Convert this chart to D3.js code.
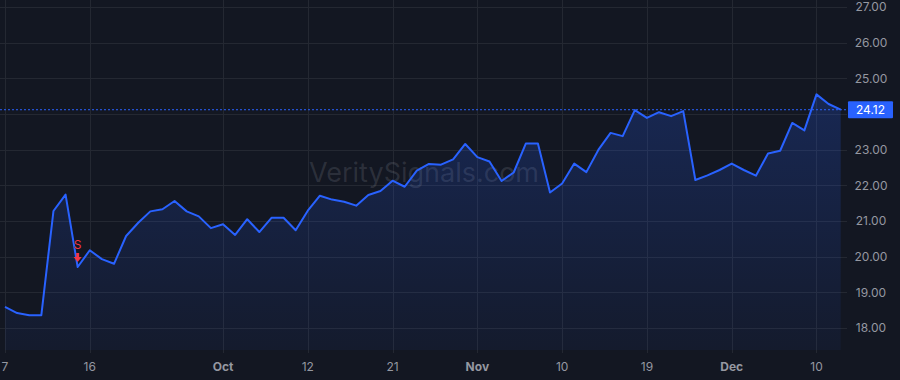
<!DOCTYPE html>
<html>
<head>
<meta charset="utf-8">
<script src="https://cdn.jsdelivr.net/npm/d3@7/dist/d3.min.js"></script>
<style>
  html, body { margin: 0; padding: 0; background: #131722; }
  svg { display: block; }
  text { font-family: "Inter", "Roboto", "Liberation Sans", sans-serif; }
</style>
</head>
<body>
<svg id="chart" width="900" height="380"></svg>
<script>
// ---- Data ----
const dates = [
  "2021-09-07","2021-09-08","2021-09-09","2021-09-10","2021-09-13","2021-09-14","2021-09-15","2021-09-16","2021-09-17",
  "2021-09-20","2021-09-21","2021-09-22","2021-09-23","2021-09-24","2021-09-27","2021-09-28","2021-09-29","2021-09-30",
  "2021-10-01","2021-10-04","2021-10-05","2021-10-06","2021-10-07","2021-10-08","2021-10-11","2021-10-12","2021-10-13",
  "2021-10-14","2021-10-15","2021-10-18","2021-10-19","2021-10-20","2021-10-21","2021-10-22","2021-10-25","2021-10-26",
  "2021-10-27","2021-10-28","2021-10-29","2021-11-01","2021-11-02","2021-11-03","2021-11-04","2021-11-05","2021-11-08",
  "2021-11-09","2021-11-10","2021-11-11","2021-11-12","2021-11-15","2021-11-16","2021-11-17","2021-11-18","2021-11-19",
  "2021-11-22","2021-11-23","2021-11-24","2021-11-26","2021-11-29","2021-11-30","2021-12-01","2021-12-02","2021-12-03",
  "2021-12-06","2021-12-07","2021-12-08","2021-12-09","2021-12-10","2021-12-13","2021-12-14"
];
const closes = [
  18.59, 18.42, 18.36, 18.36, 21.28, 21.74, 19.71, 20.18, 19.93, 19.80,
  20.58, 20.95, 21.27, 21.33, 21.56, 21.27, 21.13, 20.80, 20.91, 20.61,
  21.05, 20.69, 21.09, 21.09, 20.74, 21.29, 21.71, 21.60, 21.54, 21.43,
  21.73, 21.84, 22.13, 21.96, 22.41, 22.60, 22.58, 22.73, 23.16, 22.79,
  22.67, 22.12, 22.36, 23.17, 23.17, 21.80, 22.05, 22.61, 22.37, 23.00,
  23.47, 23.38, 24.11, 23.89, 24.05, 23.94, 24.08, 22.15, 22.28, 22.43,
  22.61, 22.43, 22.27, 22.89, 22.97, 23.75, 23.54, 24.55, 24.28, 24.12
];
const xTickDates  = ["2021-09-07","2021-09-16","2021-10-01","2021-10-12","2021-10-21","2021-11-01","2021-11-10","2021-11-19","2021-12-01","2021-12-10"];
const xTickLabels = ["7","16","Oct","12","21","Nov","10","19","Dec","10"];
const xTickIsMonth = [false,false,true,false,false,true,false,false,true,false];
const yTicks = [18,19,20,21,22,23,24,25,26,27];
const lastPrice = 24.12;
const signals = [{ date: "2021-09-15", label: "S" }];
const watermark = "VeritySignals.com";

// ---- Layout ----
const W = 900, H = 380;
const plotRight = 847, plotBottom = 350;
const svg = d3.select("#chart");

const x = d3.scaleLinear().domain([0, dates.length - 1]).range([5, 840.7]);
const y = d3.scaleLinear().domain([18, 27]).range([328, 7]);
const xi = d => dates.indexOf(d);

svg.append("rect").attr("width", W).attr("height", H).attr("fill", "#131722");

// Grid
const grid = svg.append("g");
grid.selectAll("line.h").data(yTicks).join("line")
  .attr("x1", 0).attr("x2", plotRight)
  .attr("y1", d => Math.round(y(d)) + 0.5).attr("y2", d => Math.round(y(d)) + 0.5)
  .attr("stroke", "#242832").attr("stroke-width", 1);
grid.selectAll("line.v").data(xTickDates).join("line")
  .attr("x1", d => Math.round(x(xi(d))) + 0.5).attr("x2", d => Math.round(x(xi(d))) + 0.5)
  .attr("y1", 0).attr("y2", plotBottom + 3)
  .attr("stroke", "#242832").attr("stroke-width", 1);

// Watermark
svg.append("text")
  .attr("x", 424).attr("y", 182)
  .attr("text-anchor", "middle")
  .attr("font-family", "'Liberation Sans', Arial, sans-serif")
  .attr("font-size", 27)
  .attr("fill", "rgba(178,181,190,0.17)")
  .text(watermark);

// Area gradient
const defs = svg.append("defs");
const grad = defs.append("linearGradient").attr("id", "areaGrad")
  .attr("gradientUnits", "userSpaceOnUse")
  .attr("x1", 0).attr("x2", 0).attr("y1", y(24.5)).attr("y2", plotBottom);
grad.append("stop").attr("offset", "0%").attr("stop-color", "#2962ff").attr("stop-opacity", 0.22);
grad.append("stop").attr("offset", "100%").attr("stop-color", "#2962ff").attr("stop-opacity", 0.05);

const area = d3.area()
  .x((d, i) => x(i)).y0(plotBottom).y1(d => y(d));
svg.append("path").datum(closes)
  .attr("d", area).attr("fill", "url(#areaGrad)");

// Price line
const lastY = y(lastPrice);
svg.append("line")
  .attr("x1", 0).attr("x2", 848)
  .attr("y1", lastY).attr("y2", lastY)
  .attr("stroke", "#2962ff").attr("stroke-width", 1)
  .attr("stroke-dasharray", "2,2");

const line = d3.line().x((d, i) => x(i)).y(d => y(d));
svg.append("path").datum(closes)
  .attr("d", line).attr("fill", "none")
  .attr("stroke", "#2962ff").attr("stroke-width", 2)
  .attr("stroke-linejoin", "round");

// Signals
signals.forEach(s => {
  const i = xi(s.date);
  const px = x(i), py = y(closes[i]);
  const g = svg.append("g").attr("fill", "#f23645");
  g.append("text")
    .attr("x", px).attr("y", py - 18)
    .attr("text-anchor", "middle")
    .attr("font-size", 12)
    .text(s.label);
  g.append("path")
    .attr("d", `M${px-1.5},${py-14} L${px+1.5},${py-14} L${px+1.5},${py-10} L${px+4},${py-10} L${px},${py-5} L${px-4},${py-10} L${px-1.5},${py-10} Z`);
});

// Y axis labels (hide those covered by the last-price label)
svg.append("g").selectAll("text")
  .data(yTicks.filter(d => Math.abs(y(d) - lastY) > 14))
  .join("text")
  .attr("x", 871).attr("y", d => y(d))
  .attr("dy", "0.35em")
  .attr("text-anchor", "middle")
  .attr("font-size", 12)
  .attr("fill", "#9598a1")
  .text(d => d.toFixed(2));

// Last price label
svg.append("rect")
  .attr("x", 848).attr("y", lastY - 8.5).attr("width", 45).attr("height", 17)
  .attr("rx", 1).attr("fill", "#2962ff");
svg.append("text")
  .attr("x", 870.5).attr("y", lastY).attr("dy", "0.35em")
  .attr("text-anchor", "middle").attr("font-size", 12)
  .attr("fill", "#ffffff")
  .text(lastPrice.toFixed(2));

// X axis labels
svg.append("g").selectAll("text").data(xTickDates).join("text")
  .attr("x", d => x(xi(d)))
  .attr("y", 367).attr("dy", "0.35em")
  .attr("text-anchor", "middle")
  .attr("font-size", 12)
  .attr("font-weight", (d, i) => xTickIsMonth[i] ? "bold" : "normal")
  .attr("fill", "#9598a1")
  .text((d, i) => xTickLabels[i]);
</script>
</body>
</html>
